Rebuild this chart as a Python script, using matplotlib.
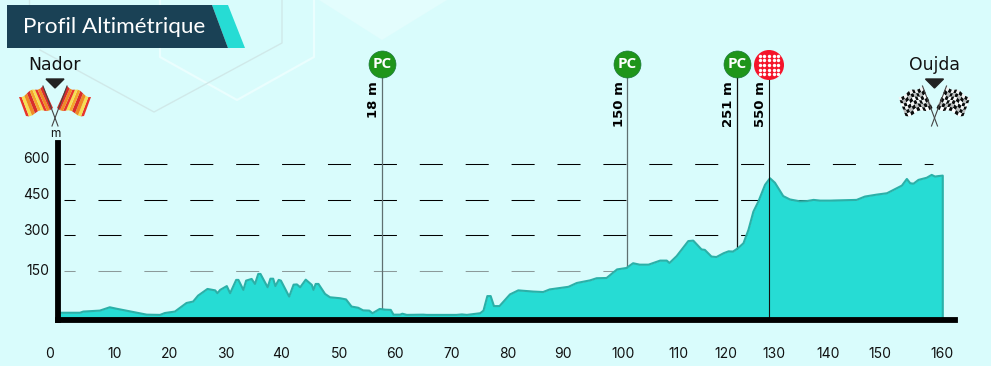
import matplotlib
matplotlib.use('Agg')
import matplotlib.pyplot as plt
import numpy as np
from matplotlib.collections import PolyCollection
from matplotlib.patches import Polygon, Circle

plt.rcParams['lines.scale_dashes'] = False

# profile (km, elevation on the chart's own scale)
km = [0, 3.8, 4.4, 7.4, 9.2, 10.4, 13.5, 15.9, 18.3, 19.2, 21.0, 23.1, 24.3, 25.2,
      26.9, 28.3, 28.7, 29.2, 30.4, 31.0, 32.1, 32.5, 33.4, 33.9, 34.9, 35.5, 36.1,
      36.5, 37.8, 38.3, 38.8, 39.2, 39.8, 40.2, 41.7, 42.5, 43.1, 43.7, 44.7, 45.8,
      46.1, 46.5, 47.0, 48.2, 49.1, 50.9, 52.0, 53.0, 54.2, 55.1, 56.2, 56.8, 58.1,
      59.1, 60.1, 60.6, 61.8, 62.2, 63.0, 66.0, 66.6, 72.0, 73.0, 73.9, 76.3, 76.9,
      77.6, 78.2, 78.8, 79.8, 81.7, 83.2, 85.9, 87.7, 88.9, 92.3, 93.8, 96.2, 97.4,
      99.2, 101.1, 102.8, 104.0, 105.2, 106.8, 108.9, 110.1, 110.6, 111.9, 114.0,
      114.9, 116.4, 117.0, 118.2, 119.1, 120.4, 121.3, 122.1, 123.0, 124.0, 124.9,
      125.8, 126.7, 127.9, 128.8, 129.7, 131.2, 132.4, 134.2, 135.5, 136.7, 137.9,
      139.7, 144.5, 146.0, 148.1, 150.0, 151.2, 152.7, 153.6, 154.2, 154.8, 155.7,
      157.2, 158.1, 158.7, 159.3, 160.1]
elev = [-25, -25, -20, -16, -2, -8, -22, -33, -34, -26, -20, 16, 22, 47,
        75, 69, 57, 71, 87, 57, 113, 113, 71, 110, 117, 96, 138,
        138, 82, 118, 118, 87, 113, 110, 43, 93, 94, 82, 114, 92,
        71, 96, 96, 54, 40, 36, 31, 1, -4, -15, -16, -27, -9,
        -12, -13, -33, -33, -29, -34, -33, -34, -34, -32, -34, -27, -16,
        45, 45, 3, 3, 52, 69, 64, 62, 73, 84, 100, 111, 120,
        121, 157, 163, 183, 177, 177, 194, 194, 184, 213, 276,
        278, 241, 239, 211, 209, 225, 233, 232, 246, 267, 323,
        400, 442, 512, 540, 521, 465, 451, 443, 444, 449, 446,
        446, 449, 463, 471, 477, 491, 509, 537, 519, 517, 533,
        542, 554, 547, 549, 551]

grid_levels = [150, 300, 450, 600]
y_tick_pos = [155, 323, 474, 625]
y_tick_labels = ['150', '300', '450', '600']
x_tick_pos = [10, 20.1, 30.3, 40.3, 50.9, 60.9, 71.1, 81.3, 91.3, 102.2, 112.3,
              120.8, 129.5, 139.3, 148.7, 160]
x_tick_labels = ['10', '20', '30', '40', '50', '60', '70', '80', '90', '100', '110',
                 '120', '130', '140', '150', '160']

pc_km = [58.5, 102.9, 122.8]
pc_foot = [-9, 163, 240]
pc_labels = ['18 m', '150 m', '251 m']
pc_line_colors = ['#5f6f70', '#5f6f70', '#111111']
summit_km = 128.6
summit_label = '550 m'
marker_level = 1020

BG = '#d9fcfc'
TEAL = '#26dcd4'
W, H = 991, 366


def draw_flag(ax, cx, palette, checker):
    """Two crossed flags around the x position cx, drawn in pixel coordinates."""
    ax.add_patch(Polygon([(cx - 9, 79), (cx + 9, 79), (cx, 88)], color='#222222', zorder=5))
    for side in (-1, 1):
        ax.plot([cx + side * 12, cx - side * 3], [86, 126], color='#444444', lw=0.8, zorder=4)
        cols, rows = (9, 6) if checker else (9, 1)
        polys, colors = [], []
        for i in range(cols):
            for j in range(rows):
                cell = []
                for u, v in [(i, j), (i + 1, j), (i + 1, j + 1), (i, j + 1)]:
                    s, t = u / cols, v / rows
                    # outer edge at s=0, pole edge at s=1
                    x_top = 36 * (1 - s) + 12 * s
                    y_top = 97 * (1 - s) + 86 * s
                    x_bot = 29 * (1 - s) + 2 * s
                    y_bot = 116 * (1 - s) + 108 * s
                    px = x_top * (1 - t) + x_bot * t
                    py = y_top * (1 - t) + y_bot * t + 1.5 * np.sin(s * 2 * np.pi * 1.5)
                    cell.append((cx + side * px, py))
                polys.append(cell)
                if checker:
                    colors.append('#0c0c0c' if (i + j) % 2 else palette[(i * 3 + j) % len(palette)])
                else:
                    colors.append(palette[i % len(palette)])
        ax.add_collection(PolyCollection(polys, facecolors=colors, edgecolors='none', zorder=3))


fig = plt.figure(figsize=(W / 100, H / 100), dpi=100, facecolor=BG)

# background shapes and banner, in pixels
bg = fig.add_axes([0, 0, 1, 1], zorder=0)
bg.set_xlim(0, W)
bg.set_ylim(H, 0)
bg.axis('off')
bg.add_patch(Polygon([(319, 0), (382, 40), (447, 0)], color='#e3fdfd', lw=0))
bg.plot([160, 160, 237, 314, 314], [0, 57, 100, 57, 0], color='#eafefe', lw=1.6)
bg.plot([40, 154, 282, 282], [50, 112, 43, 0], color='#d0e9e9', lw=1.0)
bg.plot([29, 29], [0, 5], color='#d0e9e9', lw=1.0)
bg.add_patch(Polygon([(212, 5), (228, 5), (245, 48), (228, 48)], color=TEAL, lw=0, zorder=3))
bg.add_patch(Polygon([(7, 5), (212, 5), (228, 48), (7, 48)], color='#1a4155', lw=0, zorder=3))
bg.text(23, 27, 'Profil Altimétrique', color='white', fontsize=16.2, family='Lato',
        va='center', ha='left', zorder=4)

# main chart
left, right, top, bottom = 58, 955, 143, 319.5
xlim = ((left - 59) / 5.52, (right - 59) / 5.52)
ylim = ((306.8 - bottom) * 4.2, (306.8 - top) * 4.2)
ax = fig.add_axes([left / W, 1 - bottom / H, (right - left) / W, (bottom - top) / H], zorder=1)
ax.patch.set_alpha(0)
for s in ('top', 'right'):
    ax.spines[s].set_visible(False)
for s in ('left', 'bottom'):
    ax.spines[s].set_linewidth(4.2)
    ax.spines[s].set_color('black')
    ax.spines[s].set_zorder(6)

# dashed level lines sit under the profile
for lev in grid_levels:
    c = '#8c9a9a' if lev == 150 else 'black'
    ax.plot([0.9, 158.3], [lev, lev], color=c, lw=0.75, zorder=1,
            linestyle=(8.6, (16.6, 16.45)))

for x, foot, col, lab in zip(pc_km, pc_foot, pc_line_colors, pc_labels):
    ax.plot([x, x], [foot, marker_level], color=col, lw=0.9, zorder=2, clip_on=False)
    ax.plot([x], [marker_level], 'o', ms=19.4, color='#1f951a', mec='#1a7a3a', mew=0.5,
            zorder=6, clip_on=False)
    ax.annotate('PC', (x, marker_level), color='white', fontsize=11, fontweight='bold',
                family='Open Sans', ha='center', va='center', zorder=7, annotation_clip=False)
    ax.annotate(lab, (x, marker_level), xytext=(-8, -17), textcoords='offset pixels',
                rotation=90, ha='center', va='top', fontsize=9.5, fontweight='bold',
                annotation_clip=False)

ax.fill_between(km, elev, ylim[0], color=TEAL, lw=0, zorder=3)
ax.plot(km + [km[-1]], elev + [ylim[0]], color='#2bb0a8', lw=1.5, zorder=4)

ax.plot([summit_km, summit_km], [ylim[0], marker_level], color='#111111', lw=0.8,
        zorder=5, clip_on=False)
ax.annotate(summit_label, (summit_km, marker_level), xytext=(-8, -17),
            textcoords='offset pixels', rotation=90, ha='center', va='top', fontsize=9.5,
            fontweight='bold', annotation_clip=False)

ax.set_xticks(x_tick_pos, x_tick_labels, family='Inter', fontsize=10, color='#111111')
ax.set_yticks(y_tick_pos, y_tick_labels, family='Inter', fontsize=10, color='#111111')
ax.tick_params(axis='x', length=0, pad=20)
ax.tick_params(axis='y', length=0, pad=6)
# ticks widen the limits, so the limits come last
ax.set_xlim(xlim)
ax.set_ylim(ylim)
# the 0 label sits left of the axis in the reference, so it is no regular tick
ax.annotate('0', (0, ylim[0]), xytext=(-9, -34), textcoords='offset pixels', family='Inter',
            fontsize=10, color='#111111', ha='center', va='center', annotation_clip=False)

# flags, summit badge and city names on top, in pixels
fg = fig.add_axes([0, 0, 1, 1], zorder=2)
fg.patch.set_alpha(0)
fg.set_xlim(0, W)
fg.set_ylim(H, 0)
fg.axis('off')
draw_flag(fg, 55, ['#e8352a', '#f7e04f', '#f08a24', '#d92d2a', '#f5a52c', '#f7e04f',
                   '#e8352a', '#f08a24', '#d92d2a'], False)
draw_flag(fg, 934.5, ['#f2f2f2', '#bdbdbd', '#ffffff'], True)
fg.text(54, 65, 'Nador', fontsize=12.4, ha='center', va='center', color='#111111')
fg.text(934, 65, 'Oujda', fontsize=12.4, ha='center', va='center', color='#111111')
fg.text(55, 134, 'm', fontsize=8.5, family='Inter', ha='center', va='center', color='#111111')

cx, cy = 769, 65
disc = Circle((cx, cy), 15, color='#f5142a', lw=0)
fg.add_patch(disc)
dots = [(cx + i * 4.6, cy + j * 4.6) for i in range(-3, 4) for j in range(-3, 4)
        if (i * 4.6) ** 2 + (j * 4.6) ** 2 < 13.5 ** 2]
fg.scatter([d[0] for d in dots], [d[1] for d in dots], s=6, color='white', lw=0)

fig.savefig('out.png', dpi=100, facecolor=BG)
